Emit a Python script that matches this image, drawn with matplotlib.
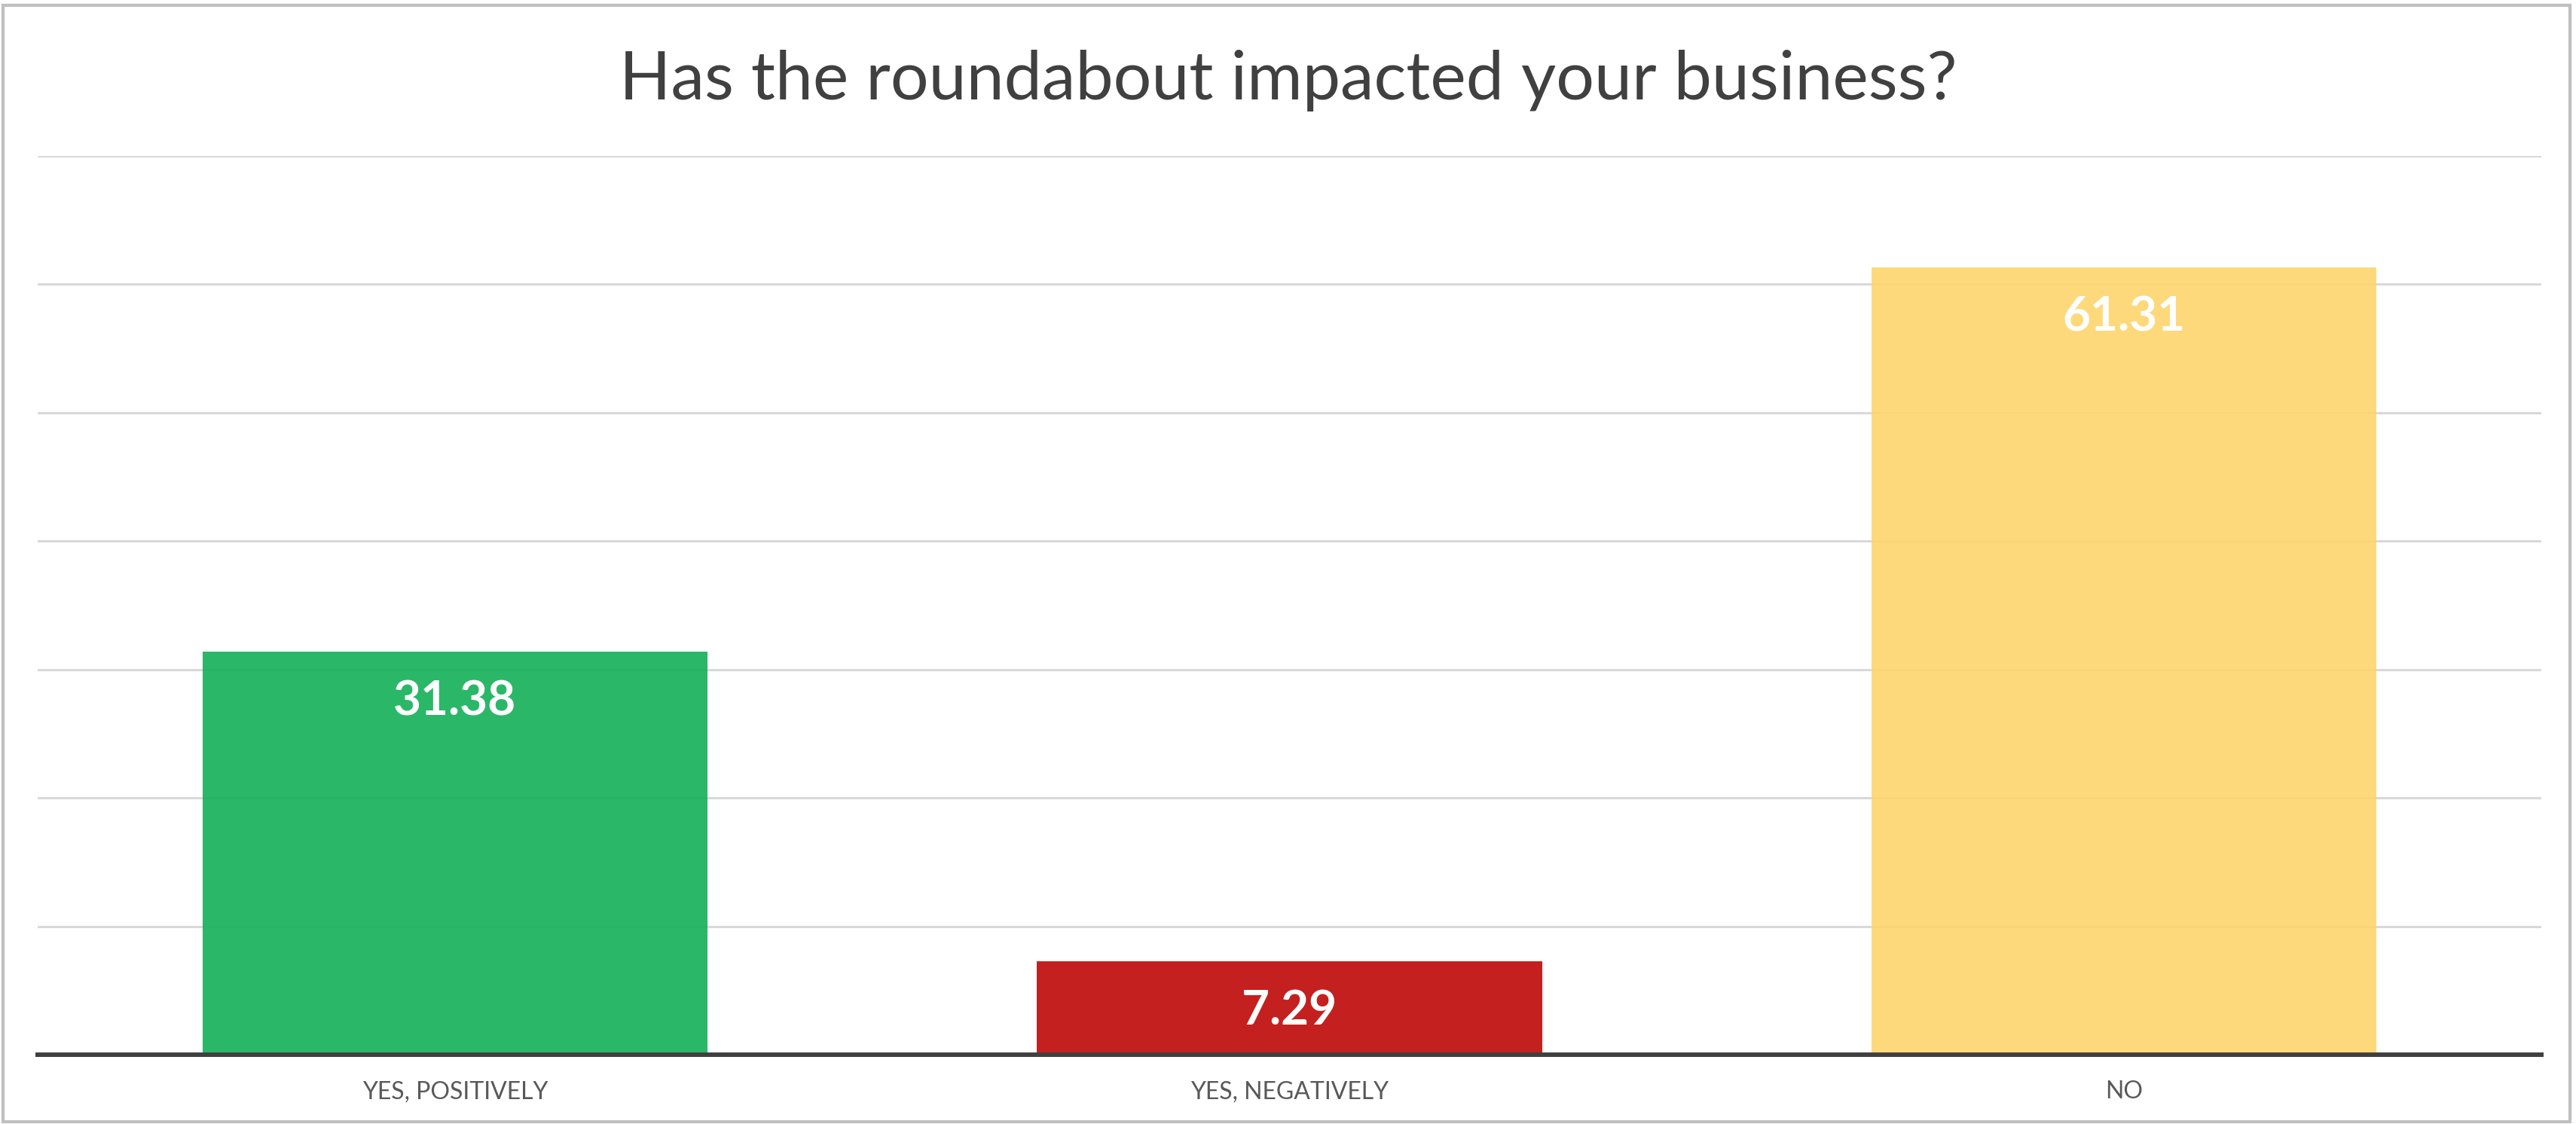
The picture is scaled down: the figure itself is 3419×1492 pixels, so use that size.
import matplotlib
matplotlib.use("Agg")
from matplotlib import pyplot as plt
from matplotlib.patches import Rectangle

categories = ["YES, POSITIVELY", "YES, NEGATIVELY", "NO"]
values = [31.38, 7.29, 61.31]
bar_colors = ["#13b057", "#bd0706", "#fed56d"]
title = "Has the roundabout impacted your business?"

plt.rcParams["font.family"] = ["Lato", "DejaVu Sans"]

W, H, DPI = 3419, 1492, 100
fig = plt.figure(figsize=(W / DPI, H / DPI), dpi=DPI, facecolor="white")
ax = fig.add_axes([50 / W, 92 / H, (3373 - 50) / W, (1400 - 207) / H])
ax.set_facecolor("white")

x = range(len(categories))
ax.bar(x, values, width=0.605, color=bar_colors, alpha=0.9, zorder=2, linewidth=0)
ax.set_xlim(-0.5, len(categories) - 0.5)
ax.set_ylim(0, 70)

# light horizontal gridlines every 10, dark baseline at 0
for y in range(10, 71, 10):
    ax.axhline(y, color="#d9d9d9", lw=2.2, zorder=1)
ax.axhline(0, color="#404040", lw=4.3, zorder=3, clip_on=False)

for s in ax.spines.values():
    s.set_visible(False)
ax.set_xticks([])
ax.set_yticks([])

for i, (v, cat) in enumerate(zip(values, categories)):
    ax.annotate(f"{v:.2f}", xy=(i, v), xytext=(0, -61), textcoords="offset points",
                ha="center", va="baseline", fontsize=46, fontweight="bold",
                color="white", zorder=4)
    ax.annotate(cat, xy=(i, 0), xytext=(0, -42), textcoords="offset points",
                ha="center", va="baseline", fontsize=23, color="#595959",
                annotation_clip=False)

fig.text(0.5, 1 - 132 / H, title, ha="center", va="baseline",
         fontsize=64.5, color="#404040")

# outer frame
fig.patches.append(Rectangle((4 / W, 3 / H), (3411 - 4) / W, (1485 - 3) / H,
                             transform=fig.transFigure, fill=False,
                             edgecolor="#bfbfbf", lw=3))

fig.savefig("out.png", dpi=DPI, facecolor="white")
